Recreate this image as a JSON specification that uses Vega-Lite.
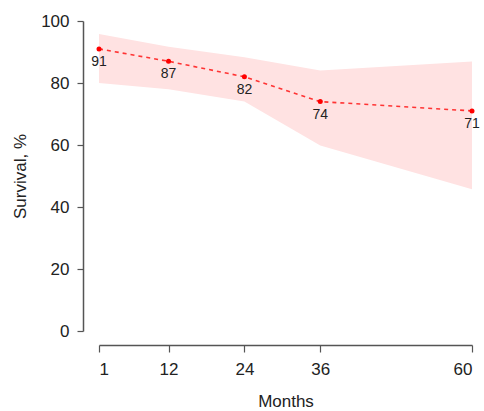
{
  "$schema": "https://vega.github.io/schema/vega-lite/v6.json",
  "width": 373,
  "height": 310,
  "autosize": {"type": "none"},
  "padding": {"left": 99, "top": 21, "right": 12, "bottom": 80},
  "config": {
    "view": {"stroke": null},
    "font": "Liberation Sans",
    "axis": {
      "grid": false,
      "domainColor": "#555555",
      "tickColor": "#555555",
      "domainWidth": 1.5,
      "tickWidth": 1.2,
      "labelColor": "#222222",
      "titleColor": "#222222",
      "labelFontSize": 17,
      "titleFontSize": 17,
      "titleFontWeight": "normal",
      "labelFont": "Liberation Sans",
      "titleFont": "Liberation Sans"
    }
  },
  "data": {
    "values": [
      {"month": 1, "surv": 91, "lo": 80, "hi": 95.8},
      {"month": 12, "surv": 87, "lo": 78, "hi": 91.7},
      {"month": 24, "surv": 82, "lo": 74, "hi": 88.3},
      {"month": 36, "surv": 74, "lo": 59.8, "hi": 84},
      {"month": 60, "surv": 71, "lo": 45.7, "hi": 86.9}
    ]
  },
  "encoding": {
    "x": {
      "field": "month",
      "type": "quantitative",
      "scale": {"domain": [1, 60], "nice": false, "zero": false},
      "axis": {
        "values": [1, 12, 24, 36, 60],
        "title": "Months",
        "offset": 14,
        "tickSize": 7,
        "labelPadding": 9,
        "titlePadding": 16
      }
    }
  },
  "layer": [
    {
      "mark": {"type": "area", "color": "#ffe2e2", "opacity": 1},
      "encoding": {
        "y": {"field": "lo", "type": "quantitative"},
        "y2": {"field": "hi"}
      }
    },
    {
      "mark": {"type": "line", "color": "#ff3333", "strokeDash": [4, 4], "strokeWidth": 1.6},
      "encoding": {
        "y": {
          "field": "surv",
          "type": "quantitative",
          "scale": {"domain": [0, 100], "nice": false},
          "axis": {
            "values": [0, 20, 40, 60, 80, 100],
            "title": "Survival, %",
            "offset": 16,
            "tickSize": 6,
            "labelPadding": 8,
            "titlePadding": 11
          }
        }
      }
    },
    {
      "mark": {"type": "point", "filled": true, "color": "#ff0000", "size": 25, "opacity": 1},
      "encoding": {"y": {"field": "surv", "type": "quantitative"}}
    },
    {
      "mark": {"type": "text", "baseline": "top", "dy": 6, "fontSize": 14, "color": "#222222"},
      "encoding": {
        "y": {"field": "surv", "type": "quantitative"},
        "text": {"field": "surv", "type": "quantitative"}
      }
    }
  ]
}
